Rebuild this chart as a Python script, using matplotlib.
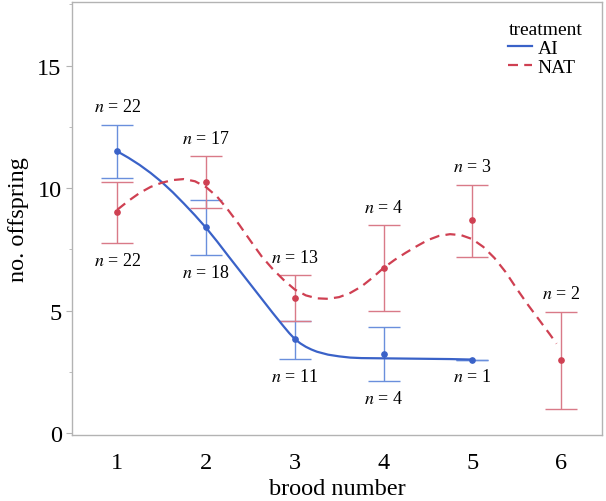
import matplotlib
matplotlib.use("Agg")
import matplotlib.pyplot as plt
from matplotlib.ticker import MultipleLocator

plt.rcParams['font.family'] = ['Liberation Serif', 'DejaVu Serif']
plt.rcParams['mathtext.fontset'] = 'stix'

# mean offspring per brood, with error bar limits and sample sizes
ai_brood = [1, 2, 3, 4, 5]
ai_mean = [11.52, 8.41, 3.82, 3.23, 3.0]
ai_lo = [10.41, 7.26, 3.03, 2.11, 3.0]
ai_hi = [12.58, 9.51, 4.59, 4.33, 3.0]
ai_n = [22, 18, 11, 4, 1]

nat_brood = [1, 2, 3, 4, 5, 6]
nat_mean = [9.01, 10.26, 5.53, 6.73, 8.68, 2.98]
nat_lo = [7.75, 9.19, 4.59, 4.98, 7.19, 0.98]
nat_hi = [10.26, 11.3, 6.45, 8.49, 10.13, 4.95]
nat_n = [22, 17, 13, 4, 3, 2]

# smoothed trend lines
ai_fit_x = [1.0, 1.125, 1.25, 1.375, 1.5, 1.625, 1.75, 1.875, 2.0, 2.125, 2.25,
            2.375, 2.5, 2.625, 2.75, 2.875, 2.9375, 3.0, 3.0625, 3.125, 3.1875,
            3.25, 3.375, 3.5, 3.625, 3.75, 4.0, 4.25, 4.5, 4.75, 5.0]
ai_fit_y = [11.5, 11.24, 10.95, 10.62, 10.25, 9.83, 9.37, 8.89, 8.38, 7.82, 7.23,
            6.65, 6.07, 5.49, 4.91, 4.35, 4.08, 3.84, 3.66, 3.52, 3.41,
            3.32, 3.2, 3.13, 3.08, 3.06, 3.05, 3.04, 3.03, 3.02, 3.0]
nat_fit_x = [1.0, 1.125, 1.25, 1.375, 1.5, 1.625, 1.75, 1.875, 2.0, 2.125, 2.25,
             2.375, 2.5, 2.625, 2.75, 2.875, 3.0, 3.125, 3.25, 3.375, 3.5, 3.625,
             3.75, 3.875, 4.0, 4.125, 4.25, 4.375, 4.5, 4.625, 4.75, 4.875, 5.0,
             5.125, 5.25, 5.375, 5.5, 5.625, 5.75, 5.875, 5.95]
nat_fit_y = [9.12, 9.48, 9.8, 10.05, 10.22, 10.33, 10.37, 10.28, 10.04, 9.65, 9.1,
             8.5, 7.85, 7.22, 6.7, 6.25, 5.86, 5.62, 5.5, 5.48, 5.55, 5.72,
             5.98, 6.34, 6.74, 7.07, 7.36, 7.63, 7.88, 8.05, 8.12, 8.08, 7.92,
             7.6, 7.15, 6.58, 5.9, 5.25, 4.64, 4.03, 3.65]

blue_line = '#3a62c8'
blue_bar = '#6a8fdc'
red_line = '#cf4052'
red_bar = '#d97a88'
grey = '#b3b3b3'

fig = plt.figure(figsize=(6.06, 5.02), dpi=100)
ax = fig.add_axes([0.119, 0.1315, 0.874, 0.8625])

ax.errorbar(ai_brood, ai_mean,
            yerr=[[m - l for m, l in zip(ai_mean, ai_lo)],
                  [h - m for m, h in zip(ai_mean, ai_hi)]],
            fmt='none', ecolor=blue_bar, elinewidth=1, capsize=11.5, capthick=1)
ax.errorbar(nat_brood, nat_mean,
            yerr=[[m - l for m, l in zip(nat_mean, nat_lo)],
                  [h - m for m, h in zip(nat_mean, nat_hi)]],
            fmt='none', ecolor=red_bar, elinewidth=1, capsize=11.5, capthick=1)

ax.plot(ai_fit_x, ai_fit_y, color=blue_line, lw=1.6, label='AI')
ax.plot(nat_fit_x, nat_fit_y, color=red_line, lw=1.6, ls=(0, (4.5, 2.8)), label='NAT')

ax.plot(ai_brood, ai_mean, 'o', color=blue_line, ms=3.8)
ax.plot(nat_brood, nat_mean, 'o', color=red_line, ms=3.8)

# sample size labels
for x, lo, n in zip(ai_brood, ai_lo, ai_n):
    if x == 1:
        continue
    ax.annotate(r'$n$ = %d' % n, xy=(x, lo), xytext=(0, -12.5), textcoords='offset points',
                ha='center', va='center', fontsize=13)
ax.annotate(r'$n$ = %d' % ai_n[0], xy=(1, ai_hi[0]), xytext=(0, 13), textcoords='offset points',
            ha='center', va='center', fontsize=13)
for x, hi, n in zip(nat_brood, nat_hi, nat_n):
    if x == 1:
        continue
    ax.annotate(r'$n$ = %d' % n, xy=(x, hi), xytext=(0, 13), textcoords='offset points',
                ha='center', va='center', fontsize=13)
ax.annotate(r'$n$ = %d' % nat_n[0], xy=(1, nat_lo[0]), xytext=(0, -12.5), textcoords='offset points',
            ha='center', va='center', fontsize=13)

ax.set_xlim(0.49, 6.46)
ax.set_ylim(-0.08, 17.6)
ax.set_xticks([1, 2, 3, 4, 5, 6])
ax.yaxis.set_major_locator(MultipleLocator(5))
ax.yaxis.set_minor_locator(MultipleLocator(2.5))
ax.tick_params(axis='x', length=0, pad=12, labelsize=17.5)
ax.tick_params(axis='y', which='major', length=4.5, color=grey, labelsize=17.5, pad=3)
ax.tick_params(axis='y', which='minor', length=2, color=grey)
for s in ax.spines.values():
    s.set_color(grey)
    s.set_linewidth(1)

ax.set_xlabel('brood number', fontsize=17.5, labelpad=4)
ax.set_ylabel('no. offspring', fontsize=17.5, labelpad=6)

leg = ax.legend(title='treatment', loc='upper right', frameon=False, fontsize=14,
                title_fontsize=14, handlelength=1.2, handletextpad=0.3,
                labelspacing=0.05, borderaxespad=0.6, alignment='left')

plt.savefig('out.png', dpi=100)
